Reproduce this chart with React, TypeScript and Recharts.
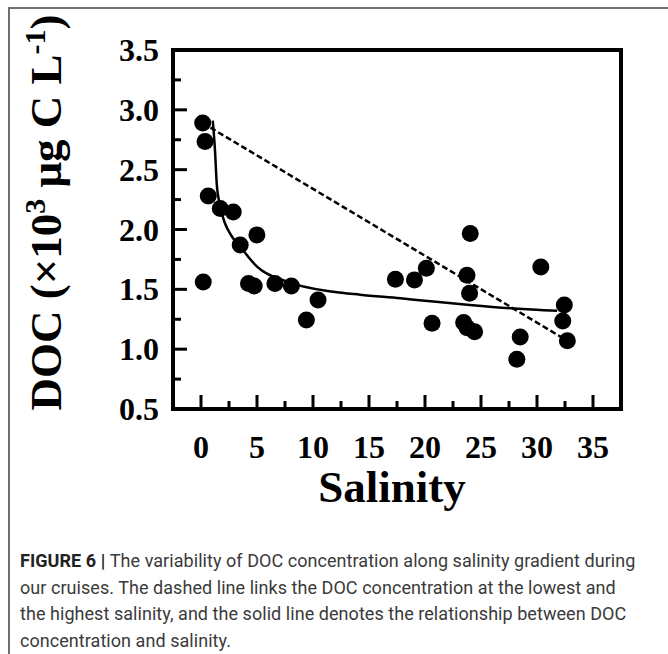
import React from 'react';
import { ComposedChart, Scatter, Line, XAxis, YAxis, ReferenceArea, Label } from 'recharts';

// Measured points (salinity, DOC ×10³ µg C/L)
const salinity = [0.15, 0.36, 0.65, 1.72, 2.88, 3.5, 4.99, 0.2, 4.24, 4.75, 6.6, 8.07, 10.45, 9.41, 17.36, 19.06, 20.12, 24.04, 23.75, 23.98, 30.34, 20.63, 23.45, 23.75, 24.43, 28.5, 28.2, 32.44, 32.3, 32.71];
const doc = [2.89, 2.735, 2.28, 2.175, 2.147, 1.871, 1.955, 1.562, 1.548, 1.528, 1.548, 1.528, 1.41, 1.244, 1.585, 1.579, 1.676, 1.966, 1.618, 1.467, 1.687, 1.216, 1.222, 1.18, 1.146, 1.102, 0.916, 1.37, 1.236, 1.07];

// Fitted (solid) curve
const fitSalinity = [1.05, 1.25, 1.4, 1.65, 2.15, 2.7, 3.5, 5.0, 7.65, 11.8, 14.2, 17.8, 20, 24, 28, 31.8];
const fitDoc = [2.91, 2.66, 2.39, 2.22, 2.05, 1.95, 1.856, 1.69, 1.565, 1.48, 1.455, 1.425, 1.405, 1.37, 1.34, 1.32];

// Dashed conservative-mixing line (lowest to highest salinity)
const dashSalinity = [0.15, 32.71];
const dashDoc = [2.89, 1.07];

// Axis ticks
const xTicks = [0, 2.5, 5, 7.5, 10, 12.5, 15, 17.5, 20, 22.5, 25, 27.5, 30, 32.5, 35];
const xTickLabels = ['0', '', '5', '', '10', '', '15', '', '20', '', '25', '', '30', '', '35'];
const yTicks = [0.5, 0.75, 1.0, 1.25, 1.5, 1.75, 2.0, 2.25, 2.5, 2.75, 3.0, 3.25, 3.5];
const yTickLabels = ['0.5', '', '1.0', '', '1.5', '', '2.0', '', '2.5', '', '3.0', '', '3.5'];

const points = salinity.map((s, i) => ({ x: s, y: doc[i] }));
const fit = fitSalinity.map((s, i) => ({ x: s, y: fitDoc[i] }));
const dash = dashSalinity.map((s, i) => ({ x: s, y: dashDoc[i] }));

const SERIF = '"Liberation Serif", "Times New Roman", serif';

const XTick = (props: any) => {
  const { x, y, payload } = props;
  const idx = xTicks.indexOf(payload.value);
  const label = xTickLabels[idx] || '';
  const major = label !== '';
  return (
    <g>
      <line x1={x} x2={x} y1={y} y2={y - (major ? 14 : 8)} stroke="#000" strokeWidth={3} />
      {major && (
        <text x={x} y={y + 49} textAnchor="middle" fontFamily={SERIF} fontWeight="bold" fontSize={32} fill="#000">
          {label}
        </text>
      )}
    </g>
  );
};

const YTick = (props: any) => {
  const { x, y, payload } = props;
  const idx = yTicks.findIndex((t) => Math.abs(t - payload.value) < 1e-6);
  const label = yTickLabels[idx] || '';
  const major = label !== '';
  return (
    <g>
      <line x1={x} x2={x + (major ? 14 : 8)} y1={y} y2={y} stroke="#000" strokeWidth={3} />
      {major && (
        <text x={x - 14} y={y + 11} textAnchor="end" fontFamily={SERIF} fontWeight="bold" fontSize={32} fill="#000">
          {label}
        </text>
      )}
    </g>
  );
};

const YLabel = (props: any) => {
  const vb = props.viewBox || { x: 93, y: 50, width: 80, height: 359 };
  const cx = vb.x - 32;
  const cy = vb.y + vb.height / 2 - 17;
  return (
    <text
      x={cx}
      y={cy}
      transform={`rotate(-90, ${cx}, ${cy})`}
      textAnchor="middle"
      fontFamily={SERIF}
      fontWeight="bold"
      fontSize={45}
      fill="#000"
    >
      <tspan>DOC (×10</tspan>
      <tspan dy={-16} fontSize={30}>3</tspan>
      <tspan dy={16}> μg C L</tspan>
      <tspan dy={-16} fontSize={30}>-1</tspan>
      <tspan dy={16}>)</tspan>
    </text>
  );
};

const XLabel = (props: any) => {
  const vb = props.viewBox || { x: 173, y: 409, width: 448, height: 60 };
  return (
    <text
      x={vb.x + vb.width / 2 - 5}
      y={vb.y + 93}
      textAnchor="middle"
      fontFamily={SERIF}
      fontWeight="bold"
      fontSize={45}
      fill="#000"
    >
      Salinity
    </text>
  );
};

const Dot = (props: any) => {
  const { cx, cy } = props;
  if (cx == null || cy == null) return <g />;
  return <circle cx={cx} cy={cy} r={8.5} fill="#000" />;
};

export default function App() {
  return (
    <div style={{ position: 'fixed', left: 0, top: 0, width: 668, height: 654, overflow: 'hidden', background: '#fff' }}>
      <div
        style={{
          position: 'absolute',
          left: 8,
          top: 7,
          width: 700,
          height: 700,
          borderLeft: '2px solid #6f6f6f',
          borderTop: '2px solid #6f6f6f',
        }}
      />
      <div style={{ position: 'absolute', left: 0, top: 0 }}>
        <ComposedChart width={668} height={520} margin={{ top: 50, right: 47, bottom: 51, left: 93 }}>
          <XAxis
            type="number"
            dataKey="x"
            domain={[-2.5, 37.5]}
            ticks={xTicks}
            interval={0}
            tickSize={0}
            tickMargin={0}
            tickLine={false}
            axisLine={false}
            tick={<XTick />}
            height={60}
            allowDataOverflow
          >
            <Label content={<XLabel />} />
          </XAxis>
          <YAxis
            type="number"
            dataKey="y"
            domain={[0.5, 3.5]}
            ticks={yTicks}
            interval={0}
            tickSize={0}
            tickMargin={0}
            tickLine={false}
            axisLine={false}
            tick={<YTick />}
            width={80}
            allowDataOverflow
          >
            <Label content={<YLabel />} />
          </YAxis>
          <ReferenceArea x1={-2.5} x2={37.5} y1={0.5} y2={3.5} fill="none" fillOpacity={0} stroke="#000" strokeWidth={4} ifOverflow="visible" />
          <Line data={dash} dataKey="y" type="linear" stroke="#000" strokeWidth={2.5} strokeDasharray="6 3" dot={false} activeDot={false} isAnimationActive={false} />
          <Line data={fit} dataKey="y" type="monotone" stroke="#000" strokeWidth={2.5} dot={false} activeDot={false} isAnimationActive={false} />
          <Scatter data={points} dataKey="y" fill="#000" shape={<Dot />} isAnimationActive={false} />
        </ComposedChart>
      </div>
      <div
        style={{
          position: 'absolute',
          left: 20,
          top: 548,
          fontFamily: 'Roboto, "Noto Sans", sans-serif',
          fontSize: 18,
          letterSpacing: '0.05px',
          lineHeight: '26.6px',
          color: '#3a3a3a',
          whiteSpace: 'nowrap',
        }}
      >
        <div>
          <span style={{ fontWeight: 'bold', color: '#222' }}>FIGURE 6 | </span>
          The variability of DOC concentration along salinity gradient during
        </div>
        <div>our cruises. The dashed line links the DOC concentration at the lowest and</div>
        <div>the highest salinity, and the solid line denotes the relationship between DOC</div>
        <div>concentration and salinity.</div>
      </div>
    </div>
  );
}
